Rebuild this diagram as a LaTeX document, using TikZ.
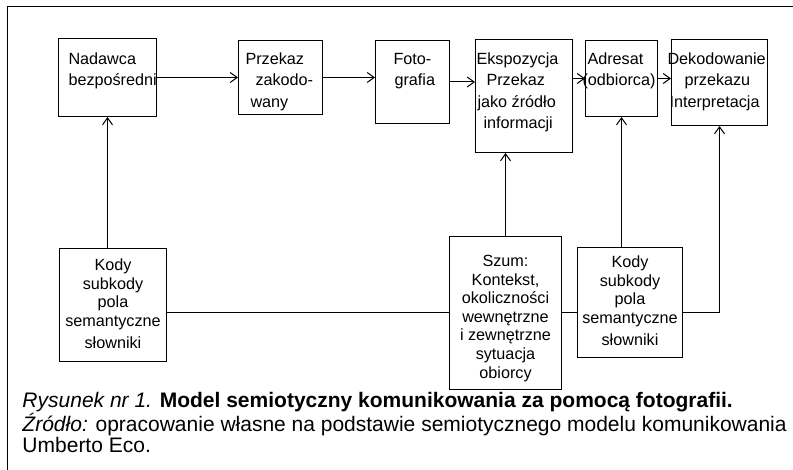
\documentclass[tikz,border=0pt]{standalone}
\usepackage{fontspec}
\setmainfont{Liberation Sans}
\usetikzlibrary{arrows.meta}
\def\wiersz(#1)#2;{\makebox[\linewidth][l]{\hspace*{#1pt}#2}\par}
\def\blok[#1:#2:#3]#4{\parbox[t][#2pt][t]{#1pt}{\rule{0pt}{#3pt}#4}}
\tikzset{
  ramka/.style={draw, line width=1pt, inner sep=0pt, anchor=north west},
  gora/.style={ramka, font=\fontsize{16.2}{21.3}\selectfont},
  dol/.style={ramka, font=\fontsize{16.2}{18.6}\selectfont},
  strz/.style={-{Straight Barb[length=7pt,width=10pt]}},
}
\begin{document}
\begin{tikzpicture}[x=1pt, y=-1pt, line width=1pt]
			%%%%% START %%%%%
			\useasboundingbox (0, 0) rectangle (793, 470);
			\draw (7, 470) -- (7, 6.5) -- (793, 6.5);
			
			\node[gora] (nadawca) at (58, 38) {\blok[98:78:26]{\wiersz(10)Nadawca;\wiersz(10)bezpośredni;}};
			\node[gora] (przekaz) at (238, 40) {\blok[84:74:24]{\wiersz(7)Przekaz;\wiersz(17)zakodo-;\wiersz(12)wany;}};
			\node[gora] (foto) at (375, 40) {\blok[74:83:24]{\wiersz(18)Foto-;\wiersz(19)grafia;}};
			\node[gora] (eksp) at (475, 39) {\blok[97:113:25]{\wiersz(1)Ekspozycja;\wiersz(11)Przekaz;\wiersz(2)jako źródło;\wiersz(8)informacji;}};
			\node[gora] (adresat) at (585, 40) {\blok[72:76:24]{\wiersz(2)Adresat;\wiersz(-3)(odbiorca);}};
			\node[gora] (dek) at (671, 39) {\blok[96:86:25]{\wiersz(-4)Dekodowanie;\wiersz(13)przekazu;\wiersz(-2)Interpretacja;}};
			
			\node[dol] (kodyL) at (59, 248) {\blok[107:113:22]{\centering Kody\\subkody\\pola\\semantyczne\\[4pt]słowniki}};
			\node[dol] (szum) at (449, 236) {\blok[112:153:30]{\centering Szum:\\Kontekst,\\okoliczności\\wewnętrzne\\i zewnętrzne\\sytuacja\\obiorcy}};
			\node[dol] (kodyR) at (577, 247) {\blok[105:110:20]{\centering Kody\\subkody\\pola\\semantyczne\\[4pt]słowniki}};
			
			\draw[strz] (nadawca.east) -- (nadawca.east -| przekaz.west);
			\draw[strz] (przekaz.east) -- (przekaz.east -| foto.west);
			\draw[strz] (foto.east) -- (foto.east -| eksp.west);
			\draw[strz] (eksp.east |- adresat.west) -- (adresat.west);
			\draw[strz] (adresat.east) -- (adresat.east -| dek.west);
			
			\draw[strz] (nadawca.south |- kodyL.north) -- (nadawca.south);
			\draw[strz] (szum.north) -- (szum.north |- eksp.south);
			\draw[strz] (adresat.south |- kodyR.north) -- (adresat.south);
			\draw (kodyL.east |- szum.west) -- (szum.west);
			\draw (szum.east) -- (szum.east -| kodyR.west);
			\draw[strz] (szum.east -| kodyR.east) -- (szum.east -| dek.south) -- (dek.south);
			
			\node[anchor=base west, inner sep=0pt, font=\fontsize{21}{21}\selectfont] (podpis) at (22, 408) {\parbox[t]{770pt}{{\itshape Rysunek nr 1.} {\bfseries Model semiotyczny komunikowania za pomocą fotografii.}\\{\itshape Źródło:} opracowanie własne na podstawie semiotycznego modelu komunikowania\\Umberto Eco.}};
			%%%%% END %%%%%
\end{tikzpicture}
\end{document}
